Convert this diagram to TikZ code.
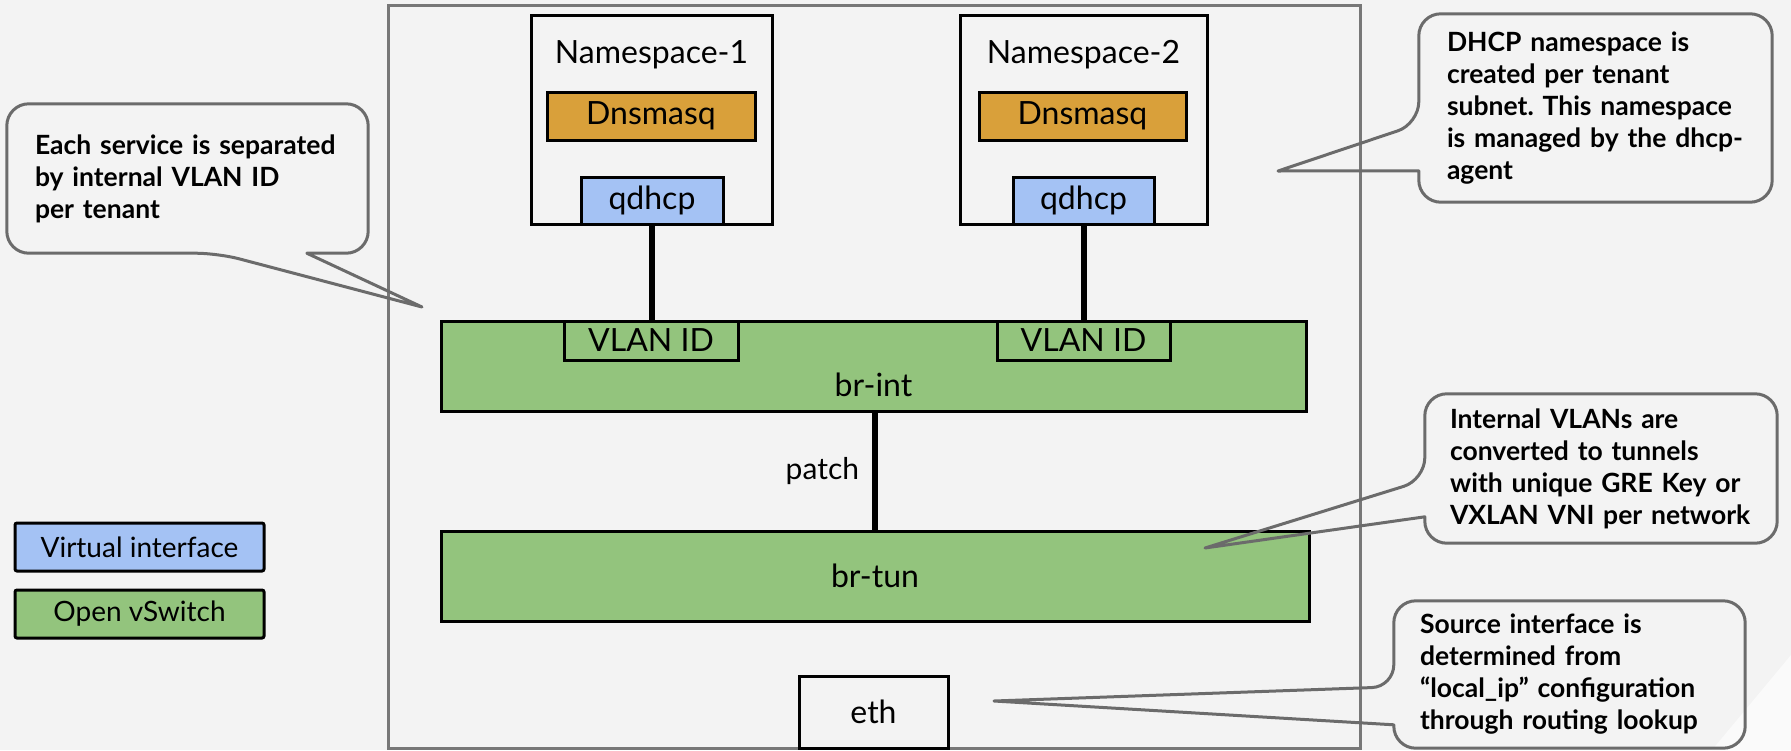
\documentclass[tikz,border=0pt]{standalone}
\usepackage{fontspec}
\setmainfont{Lato}
\usetikzlibrary{positioning}
\frenchspacing

\definecolor{slidebg}{HTML}{F3F3F3}
\definecolor{framegray}{HTML}{777777}
\definecolor{notegray}{HTML}{6B6B6B}
\definecolor{vifblue}{HTML}{A4C2F4}
\definecolor{ovsgreen}{HTML}{93C47D}
\definecolor{dnsorange}{HTML}{D9A03A}

\begin{document}
\begin{tikzpicture}[x=1pt, y=-1pt,
    box/.style={rectangle, draw=black, line width=3pt, inner sep=0pt, font=\fontsize{32}{36}\selectfont},
    nsbox/.style={box, minimum height=209pt},
    dns/.style={box, fill=dnsorange, minimum height=48pt},
    vif/.style={box, fill=vifblue, minimum height=47pt},
    ovs/.style={box, fill=ovsgreen, minimum height=90pt},
    vlan/.style={box, fill=ovsgreen, minimum height=39pt},
    title/.style={inner sep=0pt, font=\fontsize{32}{36}\selectfont},
    legend/.style={box, rounded corners=2pt, minimum width=249pt, minimum height=48pt, font=\fontsize{28}{32}\selectfont},
    note/.style={rectangle, inner ysep=0pt, align=left, font=\fontsize{26.5}{32}\selectfont\bfseries},
    noteline/.style={draw=notegray, line width=3pt, line join=round},
    link/.style={line width=6pt}
]
    % Slide background
    \useasboundingbox (0,0) rectangle (1791,750);
    \fill[slidebg] (0,0) rectangle (1791,750);
    \fill[white!60!slidebg] (1791,655) -- (1791,750) -- (1712,750) -- cycle;

    % Host
    \node[draw=framegray, line width=3pt, minimum width=972pt, minimum height=743pt] (host) at (874,376.5) {};

    % Namespace-1
    \node[nsbox, minimum width=241pt] (ns1) at (651.5,119.5) {};
    \node[title] (ns1title) at (651.5,55) {Namespace-1};
    \node[dns, minimum width=208pt] (dns1) at (651,116) {Dnsmasq};
    \node[vif, minimum width=142pt] (qdhcp1) at (652,200.5) {qdhcp};

    % Namespace-2
    \node[nsbox, minimum width=247pt] (ns2) at (1083.5,119.5) {};
    \node[title] (ns2title) at (1083.5,55) {Namespace-2};
    \node[dns, minimum width=207pt] (dns2) at (1082.5,116) {Dnsmasq};
    \node[vif, minimum width=141pt] (qdhcp2) at (1083.5,200.5) {qdhcp};

    % Bridges
    \node[ovs, minimum width=865pt] (brint) at (873.5,366) {};
    \node[title] (brinttitle) at (873.5,385) {br-int};
    \node[vlan, minimum width=174pt] (vlan1) at (651,340.5) {VLAN ID};
    \node[vlan, minimum width=173pt] (vlan2) at (1083.5,340.5) {VLAN ID};
    \node[ovs, minimum width=868pt] (brtun) at (875,576) {br-tun};
    \node[box, minimum width=149pt, minimum height=72pt] (eth) at (873.5,712) {eth};

    % Links
    \draw[link] (qdhcp1.south) -- (qdhcp1.south |- vlan1.north);
    \draw[link] (qdhcp2.south) -- (qdhcp2.south |- vlan2.north);
    \draw[link] (brtun.north |- brint.south) -- (brtun.north)
        node[midway, left=13pt, inner sep=0pt, font=\fontsize{30}{34}\selectfont] {patch};

    % Legend
    \node[legend, fill=vifblue] (legvif) at (139.5,547) {Virtual interface};
    \node[legend, fill=ovsgreen, below=16pt of legvif] (legovs) {Open vSwitch};

    % Notes
    \node[note, text width=305pt, inner xsep=28pt, minimum height=149pt] (noteVlan) at (187.5,178.5)
        {Each service is separated\\by internal VLAN ID\\per tenant};
    \coordinate (tipVlan) at (422,307);
    \draw[noteline] ([xshift=211pt]noteVlan.south west) [sharp corners] -- (tipVlan)
        -- ([xshift=300pt]noteVlan.south west) [rounded corners=22pt] -- (noteVlan.south east)
        -- (noteVlan.north east) -- (noteVlan.north west) -- (noteVlan.south west) -- cycle;

    \node[note, text width=297pt, inner xsep=28pt, minimum height=188pt] (noteDhcp) at (1595.5,108)
        {DHCP namespace is\\created per tenant\\subnet. This namespace\\is managed by the dhcp-\\agent};
    \coordinate (tipDhcp) at (1278,171);
    \draw[noteline] ([yshift=-110pt]noteDhcp.north west) [sharp corners] -- (tipDhcp)
        -- ([yshift=-157pt]noteDhcp.north west) [rounded corners=22pt] -- (noteDhcp.south west)
        -- (noteDhcp.south east) -- (noteDhcp.north east) -- (noteDhcp.north west) -- cycle;

    \node[note, text width=302pt, inner xsep=25pt, minimum height=149pt] (noteTunnel) at (1601,468.5)
        {Internal VLANs are\\converted to tunnels\\with unique GRE Key or\\VXLAN VNI per network};
    \coordinate (tipTunnel) at (1205,548);
    \draw[noteline] ([yshift=-86pt]noteTunnel.north west) [sharp corners] -- (tipTunnel)
        -- ([yshift=-123pt]noteTunnel.north west) [rounded corners=22pt] -- (noteTunnel.south west)
        -- (noteTunnel.south east) -- (noteTunnel.north east) -- (noteTunnel.north west) -- cycle;

    \node[note, text width=299pt, inner xsep=26pt, minimum height=147pt] (noteSource) at (1569.5,674.5)
        {Source interface is\\determined from\\“local\_ip” configuration\\through routing lookup};
    \coordinate (tipSource) at (994,701);
    \draw[noteline] ([yshift=-86pt]noteSource.north west) [sharp corners] -- (tipSource)
        -- ([yshift=-124pt]noteSource.north west) [rounded corners=22pt] -- (noteSource.south west)
        -- (noteSource.south east) -- (noteSource.north east) -- (noteSource.north west) -- cycle;
\end{tikzpicture}
\end{document}
